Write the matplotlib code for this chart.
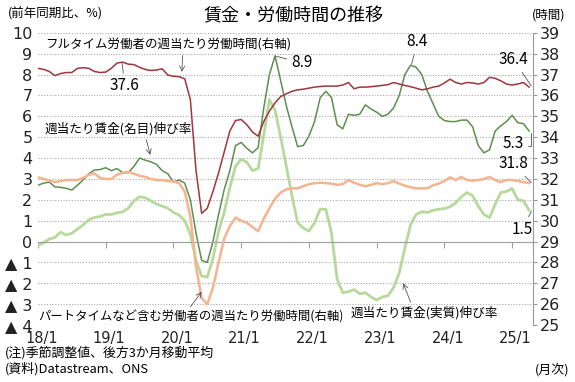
import matplotlib.pyplot as plt
import numpy as np

plt.rcParams['font.family'] = ['Noto Sans CJK JP', 'DejaVu Sans']

# monthly, 2018/1 - 2025/4
ft_hours = [37.30, 37.25, 37.15, 36.95, 37.05, 37.10, 37.10, 37.30, 37.33, 37.30, 37.15, 37.10,
            37.12, 37.30, 37.55, 37.60, 37.50, 37.48, 37.35, 37.25, 37.20, 37.22, 37.28, 36.98,
            36.92, 36.90, 36.80, 35.80, 32.40, 30.35, 30.60, 31.40, 32.30, 33.30, 34.30, 34.80,
            34.85, 34.60, 34.25, 34.05, 34.75, 35.25, 35.65, 35.95, 36.08, 36.20, 36.27, 36.30,
            36.35, 36.40, 36.43, 36.45, 36.45, 36.45, 36.50, 36.62, 36.32, 36.40, 36.40, 36.42,
            36.45, 36.48, 36.52, 36.62, 36.55, 36.48, 36.42, 36.35, 36.27, 36.32, 36.40, 36.45,
            36.60, 36.78, 36.62, 36.55, 36.62, 36.60, 36.55, 36.62, 36.87, 36.82, 36.70, 36.55,
            36.50, 36.55, 36.62, 36.40]

pt_hours = [32.08, 32.00, 31.92, 31.85, 31.90, 31.95, 31.95, 31.95, 32.05, 32.20, 32.27, 32.05,
            32.00, 32.00, 32.20, 32.30, 32.35, 32.25, 32.15, 32.10, 32.00, 31.95, 31.95, 31.90,
            31.88, 31.80, 31.40, 30.20, 27.80, 26.30, 26.00, 26.80, 28.00, 29.15, 29.75, 30.15,
            30.00, 29.90, 29.70, 29.50, 30.10, 30.60, 31.05, 31.35, 31.50, 31.55, 31.55, 31.65,
            31.75, 31.80, 31.82, 31.80, 31.78, 31.72, 31.75, 31.95, 31.82, 31.72, 31.65, 31.72,
            31.80, 31.75, 31.80, 31.90, 31.78, 31.68, 31.60, 31.55, 31.55, 31.55, 31.70, 31.78,
            31.90, 32.08, 31.95, 32.10, 31.95, 31.92, 31.95, 32.00, 32.10, 31.95, 31.85, 31.95,
            31.95, 31.90, 31.85, 31.80]

nominal = [2.70, 2.80, 2.85, 2.62, 2.60, 2.55, 2.47, 2.70, 2.95, 3.25, 3.43, 3.45,
           3.54, 3.40, 3.50, 3.30, 3.30, 3.60, 4.00, 3.90, 3.82, 3.70, 3.40, 3.25,
           2.85, 2.95, 2.80, 2.00, 0.40, -0.90, -1.00, 0.00, 1.30, 2.50, 3.40, 4.60,
           4.75, 4.47, 4.25, 4.50, 6.40, 8.00, 8.90, 7.70, 6.50, 5.50, 4.55, 4.60,
           5.05, 5.75, 6.90, 7.20, 6.90, 5.60, 5.40, 6.10, 6.05, 6.10, 6.55, 6.35,
           6.20, 6.00, 6.10, 6.40, 7.00, 8.00, 8.45, 8.35, 8.00, 7.20, 6.60, 6.00,
           5.80, 5.75, 5.75, 5.82, 5.82, 5.50, 4.60, 4.25, 4.40, 5.30, 5.55, 5.75,
           6.05, 5.70, 5.65, 5.30]

real = [-0.20, -0.05, 0.12, 0.20, 0.45, 0.32, 0.40, 0.60, 0.80, 1.05, 1.15, 1.20,
        1.30, 1.30, 1.38, 1.42, 1.60, 1.95, 2.15, 2.10, 1.95, 1.80, 1.70, 1.60,
        1.40, 1.27, 1.00, 0.35, -0.90, -1.65, -1.70, -0.80, 0.50, 1.40, 2.60, 3.60,
        3.95, 3.80, 3.40, 3.50, 5.10, 6.80, 6.30, 5.00, 3.60, 2.20, 0.90, 0.65,
        0.50, 0.90, 1.55, 1.55, 0.40, -1.80, -2.45, -2.40, -2.30, -2.50, -2.45, -2.65,
        -2.80, -2.65, -2.60, -2.20, -1.50, -0.30, 0.80, 1.30, 1.43, 1.40, 1.50, 1.55,
        1.58, 1.67, 1.85, 2.15, 2.35, 2.20, 1.70, 1.30, 1.15, 1.80, 2.35, 2.40,
        2.55, 2.00, 1.95, 1.50]

year_labels = ['18/1', '19/1', '20/1', '21/1', '22/1', '23/1', '24/1', '25/1']

x = np.arange(len(nominal))
year_ticks = np.arange(0, len(x), 12)

fig = plt.figure(figsize=(5.75, 3.82), dpi=100)
ax = fig.add_axes([0.066, 0.149, 0.861, 0.765])
ax2 = ax.twinx()

ax.plot(x, real, color='#b7d99c', lw=2.0)
ax.plot(x, nominal, color='#5e8f4f', lw=1.1)
ax2.plot(x, pt_hours, color='#f3b48f', lw=1.8)
ax2.plot(x, ft_hours, color='#a0363c', lw=1.1)

ax.set_xlim(0, 87.7)
ax.set_ylim(-4, 10)
ax2.set_ylim(25, 39)

left_ticks = np.arange(-4, 11)
ax.set_yticks(left_ticks)
ax.set_yticklabels([str(v) if v >= 0 else '▲ ' + str(-v) for v in left_ticks],
                   family=['DejaVu Sans', 'Noto Sans CJK JP'])
ax2.set_yticks(np.arange(25, 40))
ax2.set_yticklabels([str(v) for v in range(25, 40)], family='DejaVu Sans')
ax.yaxis.grid(True, color='#a8a8a8', linestyle=(0, (1, 1.5)), lw=0.8)

for s in ['top', 'left', 'right']:
    ax.spines[s].set_visible(False)
for s in ['top', 'left', 'bottom']:
    ax2.spines[s].set_visible(False)
ax2.spines['right'].set_color('#999999')

ax.spines['bottom'].set_position(('data', 0))
ax.spines['bottom'].set_color('#a0a0a0')
ax.set_xticks(year_ticks)
ax.tick_params(axis='x', length=4, color='#a0a0a0', labelbottom=False)
ax.tick_params(axis='y', length=0, pad=4, labelsize=11.5, labelcolor='#222222')
ax2.tick_params(axis='y', length=3, pad=2, labelsize=11.5, color='#999999', labelcolor='#222222')

secax = ax.secondary_xaxis('bottom')
secax.set_xticks(year_ticks + 0.6, labels=year_labels, family='DejaVu Sans')
secax.tick_params(length=0, pad=4, labelsize=10.5, labelcolor='#222222')
secax.spines['bottom'].set_visible(False)

arrow = dict(arrowstyle='->', color='#555555', lw=0.6, shrinkA=1, shrinkB=0)
leader = dict(arrowstyle='-', color='#555555', lw=0.6, shrinkA=1, shrinkB=0)
num = 11

ax2.annotate('フルタイム労働者の週当たり労働時間(右軸)', xy=(25.5, 37.13), xytext=(1.25, 38.42),
             ha='left', va='center', fontsize=9, arrowprops=dict(arrow, relpos=(0.56, 0)))
ax2.annotate('37.6', xy=(14.9, 37.55), xytext=(15.4, 36.46), ha='center', va='center',
             fontsize=num, arrowprops=leader)
ax2.annotate('週当たり賃金(名目)伸び率', xy=(19.9, 33.15), xytext=(1.25, 34.4),
             ha='left', va='center', fontsize=9.1, arrowprops=dict(arrow, relpos=(0.68, 0)))
ax2.annotate('8.9', xy=(42.2, 37.88), xytext=(46.7, 37.56), ha='center', va='center',
             fontsize=num, arrowprops=leader)
ax2.annotate('8.4', xy=(66.2, 37.5), xytext=(67.2, 38.57), ha='center', va='center',
             fontsize=num, arrowprops=leader)
ax2.annotate('36.4', xy=(87.4, 36.45), xytext=(84.3, 37.7), ha='center', va='center',
             fontsize=num, arrowprops=leader)
ax2.annotate('5.3', xy=(87.3, 34.2), xytext=(84.2, 33.72), ha='center', va='center',
             fontsize=num, arrowprops=dict(leader, relpos=(1, 0.3),
                                           connectionstyle='angle,angleA=0,angleB=90,rad=0'))
ax2.annotate('31.8', xy=(87.4, 31.82), xytext=(84.2, 32.72), ha='center', va='center',
             fontsize=num, arrowprops=leader)
ax2.annotate('1.5', xy=(87.4, 30.45), xytext=(85.8, 29.59), ha='center', va='center',
             fontsize=num, arrowprops=leader)
ax2.annotate('パートタイムなど含む労働者の週当たり労働時間(右軸)', xy=(29.0, 26.59), xytext=(0.0, 25.38),
             ha='left', va='center', fontsize=8.9, arrowprops=dict(arrow, relpos=(0.49, 1)))
ax2.annotate('週当たり賃金(実質)伸び率', xy=(64.7, 27.01), xytext=(68.4, 25.57),
             ha='center', va='center', fontsize=9.1, arrowprops=dict(arrow, relpos=(0.42, 1)))

fig.text(0.511, 0.958, '賃金・労働時間の推移', ha='center', va='center', fontsize=13)
fig.text(0.014, 0.963, '(前年同期比、%)', ha='left', va='center', fontsize=9)
fig.text(0.983, 0.961, '(時間)', ha='right', va='center', fontsize=9)
fig.text(0.009, 0.076, '(注)季節調整値、後方3か月移動平均', ha='left', va='center', fontsize=9.3)
fig.text(0.009, 0.034, '(資料)Datastream、ONS', ha='left', va='center', fontsize=9.3)
fig.text(0.991, 0.031, '(月次)', ha='right', va='center', fontsize=9.3)

fig.savefig('out.png', dpi=100)
